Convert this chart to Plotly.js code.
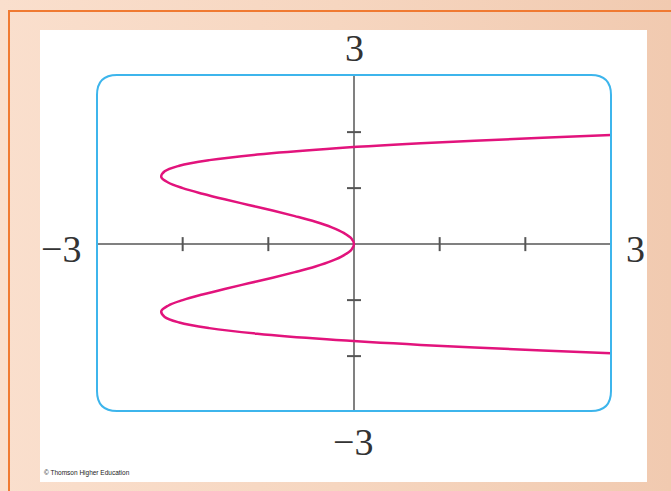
<!DOCTYPE html>
<html>
<head>
<meta charset="utf-8">
<script src="https://cdn.plot.ly/plotly-3.0.1.min.js"></script>
<style>
  html, body { margin: 0; padding: 0; width: 671px; height: 491px; overflow: hidden; }
  body { background: linear-gradient(to right, #FADFCD 0%, #F6D6C0 50%, #F1CAB0 100%); position: relative; }
  #border { position: absolute; left: 8px; top: 10px; width: 700px; height: 520px; border-left: 2px solid #F07A32; border-top: 2px solid #F07A32; box-sizing: border-box; }
  #panel { position: absolute; left: 40px; top: 30px; width: 607px; height: 452px; background: #ffffff; }
  #chart { position: absolute; left: 0; top: 0; width: 671px; height: 491px; }
</style>
</head>
<body>
<div id="border"></div>
<div id="panel"></div>
<div id="chart"></div>
<script>
// Curve points (x as a function of y)
const curveY = [-1.947, -1.9, -1.8, -1.7, -1.6, -1.5, -1.4, -1.3, -1.2, -1.1, -1.0, -0.9, -0.8, -0.7, -0.6, -0.5, -0.4, -0.3, -0.2, -0.1, 0,
                0.1, 0.2, 0.3, 0.4, 0.5, 0.6, 0.7, 0.8, 0.9, 1.0, 1.1, 1.2, 1.3, 1.4, 1.5, 1.6, 1.7, 1.8, 1.9, 1.947];
const curveX = [3.0, 2.20, 0.78, -0.32, -1.13, -1.69, -2.04, -2.21, -2.25, -2.17, -2.0, -1.77, -1.51, -1.23, -0.95, -0.69, -0.45, -0.26, -0.12, -0.03, 0,
                -0.03, -0.12, -0.26, -0.45, -0.69, -0.95, -1.23, -1.51, -1.77, -2.0, -2.17, -2.25, -2.21, -2.04, -1.69, -1.13, -0.32, 0.78, 2.20, 3.0];

// Axis tick positions
const xTicks = [-2, -1, 1, 2];
const yTicks = [-2, -1, 1, 2];

// Viewing window labels
const xMinLabel = "\u22123";
const xMaxLabel = "3";
const yMinLabel = "\u22123";
const yMaxLabel = "3";
const credit = "\u00A9 Thomson Higher Education";

const traces = [
  { x: xTicks, y: xTicks.map(() => 0), mode: 'markers', type: 'scatter', hoverinfo: 'skip',
    marker: { symbol: 'line-ns', size: 10, line: { color: '#555555', width: 2 } } },
  { x: yTicks.map(() => 0), y: yTicks, mode: 'markers', type: 'scatter', hoverinfo: 'skip',
    marker: { symbol: 'line-ew', size: 10, line: { color: '#555555', width: 2 } } },
  { x: curveX, y: curveY, mode: 'lines', type: 'scatter', hoverinfo: 'skip',
    line: { color: '#E2137C', width: 2.5, shape: 'spline', smoothing: 1 } }
];

const rx = 20 / 514, ry = 20 / 336;
const boxPath = `M ${rx},0 L ${1 - rx},0 Q 1,0 1,${ry} L 1,${1 - ry} Q 1,1 ${1 - rx},1 L ${rx},1 Q 0,1 0,${1 - ry} L 0,${ry} Q 0,0 ${rx},0 Z`;

const labelFont = { family: 'Liberation Serif, Times New Roman, serif', size: 38, color: '#333333' };

const layout = {
  width: 671, height: 491,
  margin: { l: 97, r: 60, t: 75, b: 80, pad: 0 },
  paper_bgcolor: 'rgba(0,0,0,0)',
  plot_bgcolor: 'rgba(0,0,0,0)',
  showlegend: false,
  xaxis: { range: [-3, 3], showgrid: false, showticklabels: false, ticks: '', showline: false,
           zeroline: true, zerolinecolor: '#808080', zerolinewidth: 2, fixedrange: true },
  yaxis: { range: [-2.98, 3.02], showgrid: false, showticklabels: false, ticks: '', showline: false,
           zeroline: true, zerolinecolor: '#808080', zerolinewidth: 2, fixedrange: true },
  shapes: [
    { type: 'path', xref: 'paper', yref: 'paper', path: boxPath,
      line: { color: '#3DB5EC', width: 2 }, layer: 'above' }
  ],
  annotations: [
    { x: 0, y: 0, xref: 'paper', yref: 'y', text: xMinLabel, showarrow: false, font: labelFont,
      xanchor: 'center', yanchor: 'middle', xshift: -36, yshift: -5 },
    { x: 1, y: 0, xref: 'paper', yref: 'y', text: xMaxLabel, showarrow: false, font: labelFont,
      xanchor: 'center', yanchor: 'middle', xshift: 24, yshift: -5 },
    { x: 0, y: 1, xref: 'x', yref: 'paper', text: yMaxLabel, showarrow: false, font: labelFont,
      xanchor: 'center', yanchor: 'middle', xshift: 0, yshift: 27 },
    { x: 0, y: 0, xref: 'x', yref: 'paper', text: yMinLabel, showarrow: false, font: labelFont,
      xanchor: 'center', yanchor: 'middle', xshift: -1, yshift: -31 },
    { x: -0.107, y: -0.185, xref: 'paper', yref: 'paper', text: credit, showarrow: false,
      font: { family: 'Liberation Sans, Arial, sans-serif', size: 6.5, color: '#222222' },
      xanchor: 'left', yanchor: 'middle' }
  ]
};

Plotly.newPlot('chart', traces, layout, { staticPlot: true, displayModeBar: false });
</script>
</body>
</html>
